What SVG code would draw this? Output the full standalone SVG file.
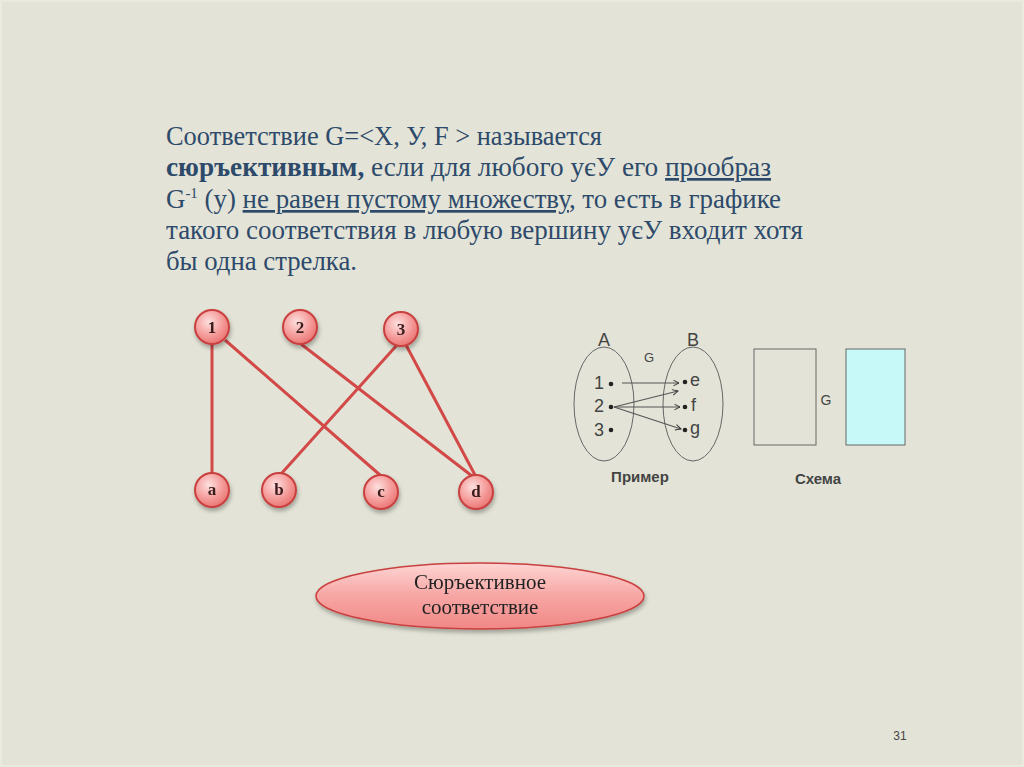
<svg xmlns="http://www.w3.org/2000/svg" width="1024" height="767" viewBox="0 0 1024 767">
<defs>
<radialGradient id="nodeFill" cx="0.4" cy="0.35" r="0.7">
<stop offset="0" stop-color="#fde0df"/>
<stop offset="0.6" stop-color="#f49a98"/>
<stop offset="1" stop-color="#e8716f"/>
</radialGradient>
<linearGradient id="ovalFill" x1="0" y1="0" x2="0" y2="1">
<stop offset="0" stop-color="#fdd5d3"/>
<stop offset="0.5" stop-color="#f7a6a4"/>
<stop offset="1" stop-color="#f08886"/>
</linearGradient>
<filter id="sh" x="-30%" y="-30%" width="160%" height="170%">
<feDropShadow dx="1" dy="3" stdDeviation="2" flood-color="#000" flood-opacity="0.3"/>
</filter>
<marker id="ah" viewBox="0 0 10 10" refX="9" refY="5" markerWidth="7" markerHeight="7" orient="auto" markerUnits="userSpaceOnUse">
<path d="M1,1 L9,5 L1,9" fill="none" stroke="#333" stroke-width="1.4"/>
</marker>
</defs>
<style>
.body{font-family:"Liberation Serif",serif;font-size:27px;fill:#2e4a6b}
.node circle{fill:url(#nodeFill);stroke:#c9403f;stroke-width:2}
.node text{font-family:"Liberation Serif",serif;font-size:17px;font-weight:bold;fill:#3a1a1a;text-anchor:middle}
.edge{stroke:#d24948;stroke-width:3;fill:none}
.sans{font-family:"Liberation Sans",Arial,sans-serif;fill:#444}
.arr{stroke:#555;stroke-width:1.2;fill:none;marker-end:url(#ah)}
</style>
<rect x="0" y="0" width="1024" height="767" fill="#e3e4d7"/>
<rect x="1" y="1" width="1022" height="765" fill="none" stroke="#f0f1e8" stroke-width="1"/>

<g id="text">
<text class="body" x="166" y="145" textLength="436" lengthAdjust="spacingAndGlyphs">Соответствие G=&lt;X, У, F &gt; называется</text>
<text class="body" x="166" y="176" textLength="605" lengthAdjust="spacingAndGlyphs"><tspan font-weight="bold">сюръективным,</tspan> если для любого yєУ его <tspan text-decoration="underline">прообраз</tspan></text>
<text class="body" x="166" y="208" textLength="615" lengthAdjust="spacingAndGlyphs">G<tspan font-size="15" dy="-10">-1</tspan><tspan dy="10"> (y) </tspan><tspan text-decoration="underline">не равен пустому множеству</tspan>, то есть в графике</text>
<text class="body" x="166" y="239" textLength="637" lengthAdjust="spacingAndGlyphs">такого соответствия в любую вершину yєУ входит хотя</text>
<text class="body" x="166" y="270" textLength="191" lengthAdjust="spacingAndGlyphs">бы одна стрелка.</text>
</g>

<g id="connectors">
<line class="edge" x1="212" y1="344" x2="212" y2="473"/>
<line class="edge" x1="225" y1="340" x2="380" y2="475"/>
<line class="edge" x1="301" y1="344" x2="472" y2="476"/>
<line class="edge" x1="397" y1="345" x2="281" y2="474"/>
<line class="edge" x1="406" y1="345" x2="475" y2="475"/>
</g>

<g id="n1" class="node" filter="url(#sh)"><circle cx="212" cy="327" r="17"/><text x="212" y="333">1</text></g>
<g id="n2" class="node" filter="url(#sh)"><circle cx="300" cy="327" r="17"/><text x="300" y="333">2</text></g>
<g id="n3" class="node" filter="url(#sh)"><circle cx="401" cy="329" r="17"/><text x="401" y="335">3</text></g>
<g id="na" class="node" filter="url(#sh)"><circle cx="212" cy="490" r="17"/><text x="212" y="495">a</text></g>
<g id="nb" class="node" filter="url(#sh)"><circle cx="279" cy="490" r="17"/><text x="279" y="495">b</text></g>
<g id="nc" class="node" filter="url(#sh)"><circle cx="381" cy="492" r="17"/><text x="381" y="497">c</text></g>
<g id="nd" class="node" filter="url(#sh)"><circle cx="476" cy="492" r="17"/><text x="476" y="497">d</text></g>

<g id="example">
<ellipse cx="604" cy="404" rx="30" ry="57" fill="none" stroke="#666" stroke-width="1"/>
<ellipse cx="693" cy="404" rx="30" ry="57" fill="none" stroke="#666" stroke-width="1"/>
<text class="sans" x="604" y="346" font-size="18" text-anchor="middle">A</text>
<text class="sans" x="693" y="346" font-size="18" text-anchor="middle">B</text>
<text class="sans" x="649" y="362" font-size="13" text-anchor="middle" fill="#666">G</text>
<text class="sans" x="599" y="389" font-size="18" text-anchor="middle">1</text>
<text class="sans" x="599" y="412" font-size="18" text-anchor="middle">2</text>
<text class="sans" x="599" y="436" font-size="18" text-anchor="middle">3</text>
<circle cx="611" cy="384" r="2.3" fill="#222"/>
<circle cx="611" cy="407" r="2.3" fill="#222"/>
<circle cx="611" cy="430" r="2.3" fill="#222"/>
<circle cx="685" cy="382" r="2.3" fill="#222"/>
<circle cx="685" cy="407" r="2.3" fill="#222"/>
<circle cx="685" cy="430" r="2.3" fill="#222"/>
<text class="sans" x="690" y="386" font-size="18">e</text>
<text class="sans" x="691" y="411" font-size="18">f</text>
<text class="sans" x="690" y="434" font-size="18">g</text>
<line class="arr" x1="622" y1="383" x2="679" y2="383"/>
<line class="arr" x1="614" y1="407" x2="678" y2="391"/>
<line class="arr" x1="614" y1="407" x2="680" y2="407"/>
<line class="arr" x1="614" y1="407" x2="681" y2="429"/>
<text class="sans" x="640" y="482" font-size="15" font-weight="bold" text-anchor="middle" fill="#555">Пример</text>
</g>

<g id="schema">
<rect x="754" y="349" width="62" height="96" fill="#e3e4d7" stroke="#666" stroke-width="1"/>
<rect x="846" y="349" width="59" height="96" fill="#c8f9f9" stroke="#666" stroke-width="1"/>
<text class="sans" x="826" y="405" font-size="14" text-anchor="middle" fill="#666">G</text>
<text class="sans" x="818" y="484" font-size="15" font-weight="bold" text-anchor="middle" fill="#555">Схема</text>
</g>

<g id="label" filter="url(#sh)">
<ellipse cx="480" cy="596" rx="164" ry="33" fill="url(#ovalFill)" stroke="#c9403f" stroke-width="1.5"/>
<text x="480" y="589" font-family="Liberation Serif, serif" font-size="21" fill="#222" text-anchor="middle">Сюръективное</text>
<text x="480" y="614" font-family="Liberation Serif, serif" font-size="21" fill="#222" text-anchor="middle">соответствие</text>
</g>

<text x="900" y="740" font-family="Liberation Sans, Arial, sans-serif" font-size="12" fill="#444" text-anchor="middle">31</text>
</svg>
